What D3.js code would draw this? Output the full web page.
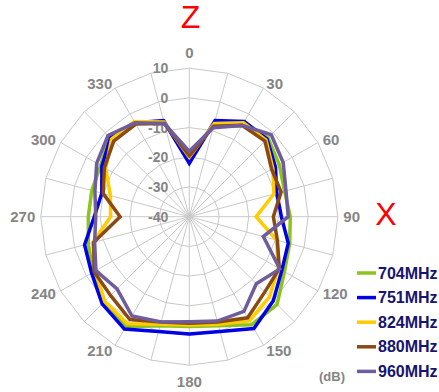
<!DOCTYPE html>
<html>
<head>
<meta charset="utf-8">
<script src="https://cdn.jsdelivr.net/npm/d3@7"></script>
<style>
  html, body { margin: 0; padding: 0; background: #fff; }
  svg { display: block; }
</style>
</head>
<body>
<svg id="chart" width="439" height="392"></svg>
<script>
// ---- data ----
const angles = [0, 15, 30, 45, 60, 75, 90, 105, 120, 135, 150, 165, 180, 195, 210, 225, 240, 255, 270, 285, 300, 315, 330, 345];
const angleLabels = ["0", "30", "60", "90", "120", "150", "180", "210", "240", "270", "300", "330"];
const radialTicks = [10, 0, -10, -20, -30, -40];
const seriesNames = ["704MHz", "751MHz", "824MHz", "880MHz", "960MHz"];
const seriesColors = ["#8cc31e", "#0000e6", "#ffcc00", "#8b4a12", "#6e5c9c"];
const s704 = [-20, -7.5, -3.5, -2.5, -5, -6.8, -6, -5, -3, 1.8, 2, -2, -3, -2, 2.8, 1, -2.6, -4.8, -6, -6, -5.5, -2, -3.5, -7];
const s751 = [-22, -6.5, -3, -3, -6.5, -9.5, -9, -5.5, -4, 0, 3.5, 0, -0.5, 0, 3.7, 1.5, -2, -3.5, -8, -9.5, -6, -2.5, -3.5, -6.5];
const s824 = [-20, -7.5, -3.5, -3.5, -7.5, -10.5, -17.5, -9.6, -5.4, -1.8, 0.5, -2.5, -3.5, -2.5, 1.6, 0.3, -3.5, -6.3, -13.5, -12.5, -7.5, -3, -3, -7];
const s880 = [-19.5, -8.5, -4.5, -4, -8, -8, -11.7, -9.3, -5, -4.1, -0.7, -3.3, -4.1, -3.3, 0, -2.5, -3, -6.7, -16.7, -10, -7, -4, -4, -7.5];
const s960 = [-18, -9, -4.5, -1, -3.5, -6.3, -6.7, -14.2, -4.8, -8.1, -3.2, -3.6, -4.6, -3.3, -1.4, -5.6, -3.7, -7, -8.5, -7.1, -4, -1.3, -3.5, -7.5];
const seriesValues = [s704, s751, s824, s880, s960];

// ---- layout ----
const cx = 189.3, cy = 216.7, R = 148.5;
const svg = d3.select("#chart");
const g = svg.append("g").attr("transform", `translate(${cx},${cy})`);

const r = d3.scaleLinear().domain([-40, 10]).range([0, R]);
const a = d3.scaleLinear().domain([0, 360]).range([0, 2 * Math.PI]);

function pt(deg, rad) {
  const t = a(deg);
  return [rad * Math.sin(t), -rad * Math.cos(t)];
}

// grid rings (polygons)
const ringVals = [-30, -20, -10, 0, 10];
ringVals.forEach(v => {
  const poly = angles.map(d => pt(d, r(v)));
  g.append("polygon")
    .attr("points", poly.map(p => p.join(",")).join(" "))
    .attr("fill", "none")
    .attr("stroke", "#c9c9c9")
    .attr("stroke-width", 1);
});
// spokes
angles.forEach(d => {
  const p = pt(d, r(10));
  g.append("line")
    .attr("x1", 0).attr("y1", 0)
    .attr("x2", p[0]).attr("y2", p[1])
    .attr("stroke", "#c9c9c9")
    .attr("stroke-width", 1);
});

// angle labels
angleLabels.forEach(s => {
  const d = +s;
  const p = pt(d, R + 5.5);
  const sn = Math.sin(a(d));
  let anchor = "middle", dy = 0;
  if (Math.abs(sn) < 1e-6) {
    dy = Math.cos(a(d)) > 0 ? -10 : 10.5;
  } else {
    anchor = sn > 0 ? "start" : "end";
  }
  g.append("text")
    .attr("x", p[0]).attr("y", p[1] + dy)
    .attr("text-anchor", anchor)
    .attr("dominant-baseline", "central")
    .attr("font-family", "Liberation Sans, Arial, sans-serif")
    .attr("font-weight", "bold")
    .attr("font-size", 15)
    .attr("fill", "#858585")
    .text(s);
});

// radial tick labels
radialTicks.forEach(v => {
  g.append("text")
    .attr("x", -21)
    .attr("y", -r(v))
    .attr("text-anchor", "end")
    .attr("dominant-baseline", "central")
    .attr("font-family", "Liberation Sans, Arial, sans-serif")
    .attr("font-weight", "bold")
    .attr("font-size", 14)
    .attr("fill", "#858585")
    .text(v);
});

// series lines
const line = d3.lineRadial()
  .angle((d, i) => a(angles[i]))
  .radius(d => r(d))
  .curve(d3.curveLinearClosed);

seriesValues.forEach((vals, k) => {
  g.append("path")
    .attr("d", line(vals))
    .attr("fill", "none")
    .attr("stroke", seriesColors[k])
    .attr("stroke-width", 3.5)
    .attr("stroke-linejoin", "miter");
});

// axis titles
svg.append("text")
  .attr("x", 190.5).attr("y", 28)
  .attr("text-anchor", "middle")
  .attr("font-family", "Liberation Sans, Arial, sans-serif")
  .attr("font-size", 32)
  .attr("fill", "#ff0000")
  .text("Z");
svg.append("text")
  .attr("x", 386).attr("y", 225)
  .attr("text-anchor", "middle")
  .attr("font-family", "Liberation Sans, Arial, sans-serif")
  .attr("font-size", 32)
  .attr("fill", "#ff0000")
  .text("X");

// (dB)
svg.append("text")
  .attr("x", 332).attr("y", 376)
  .attr("text-anchor", "middle")
  .attr("dominant-baseline", "central")
  .attr("font-family", "Liberation Sans, Arial, sans-serif")
  .attr("font-weight", "bold")
  .attr("font-size", 13)
  .attr("fill", "#858585")
  .text("(dB)");

// legend
const legend = svg.append("g").attr("transform", "translate(357,273)");
seriesNames.forEach((name, k) => {
  const row = legend.append("g").attr("transform", `translate(0,${k * 24.6})`);
  row.append("line")
    .attr("x1", 0).attr("x2", 19)
    .attr("y1", 0).attr("y2", 0)
    .attr("stroke", seriesColors[k])
    .attr("stroke-width", 3.5);
  row.append("text")
    .attr("x", 21).attr("y", 0)
    .attr("dominant-baseline", "central")
    .attr("font-family", "Liberation Sans, Arial, sans-serif")
    .attr("font-weight", "bold")
    .attr("font-size", 16)
    .attr("fill", "#151570")
    .text(name);
});
</script>
</body>
</html>
